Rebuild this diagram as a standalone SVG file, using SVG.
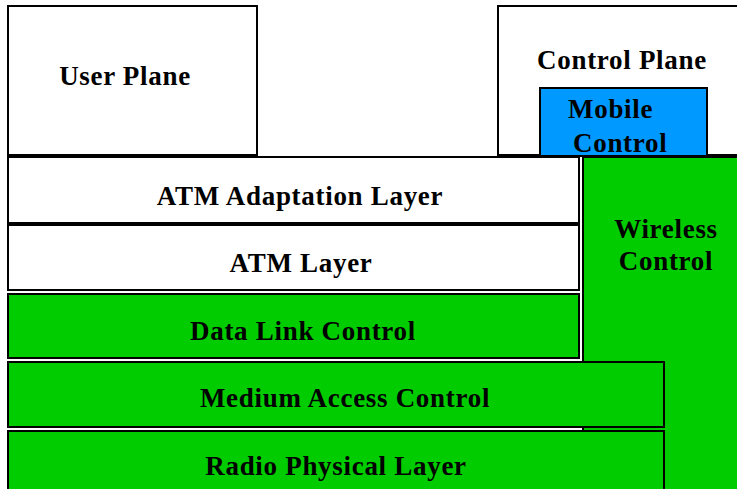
<svg xmlns="http://www.w3.org/2000/svg" width="737" height="489" viewBox="0 0 737 489">
<style>
.box{stroke:#000;stroke-width:2}
.w{fill:#fff}
.g{fill:#00CC00}
.b{fill:#0099FF}
text{font-family:"Liberation Serif","Times New Roman",serif;font-weight:bold;font-size:27px;letter-spacing:0.7px;fill:#000}
.c{text-anchor:middle}
</style>
<rect width="737" height="489" fill="#fff"/>
<g id="user-plane"><rect class="box w" x="8" y="6" width="249" height="149"/><text class="c" x="125" y="85">User Plane</text></g>
<g id="control-plane"><rect class="box w" x="498" y="6" width="250" height="149"/><text class="c" x="622" y="69">Control Plane</text></g>
<g id="mobile-control"><rect class="box b" x="540" y="88" width="167" height="68"/><text x="568" y="118">Mobile</text><text x="573" y="152">Control</text></g>
<g id="wireless-control"><rect class="box g" x="583" y="157" width="160" height="340"/><text class="c" x="666" y="238">Wireless</text><text class="c" x="666" y="270">Control</text></g>
<g id="aal"><rect class="box w" x="8" y="157" width="571" height="66"/><text class="c" x="300" y="205">ATM Adaptation Layer</text></g>
<g id="atm"><rect class="box w" x="8" y="225" width="571" height="65"/><text class="c" x="301" y="272">ATM Layer</text></g>
<g id="dlc"><rect class="box g" x="8" y="294" width="571" height="64"/><text class="c" x="303" y="340">Data Link Control</text></g>
<g id="mac"><rect class="box g" x="8" y="362" width="656" height="65"/><text class="c" x="345" y="407">Medium Access Control</text></g>
<g id="phy"><rect class="box g" x="8" y="431" width="656" height="70"/><text class="c" x="336" y="475">Radio Physical Layer</text></g>
<g id="connectors"/>
</svg>
